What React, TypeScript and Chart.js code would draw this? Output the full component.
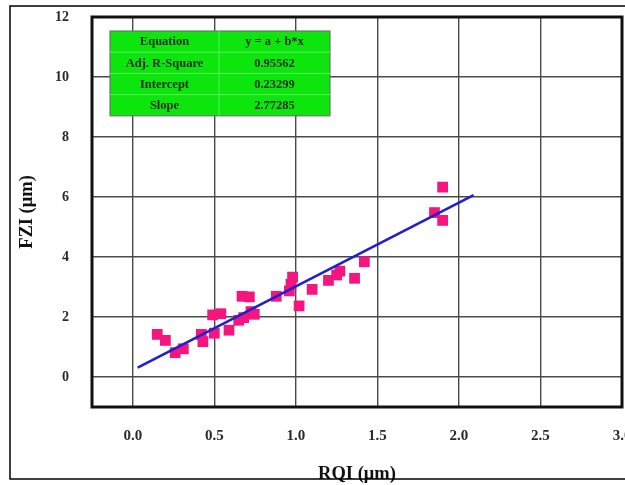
import React, { useEffect, useRef } from 'react';
import { Chart, registerables } from 'chart.js';

Chart.register(...registerables);

// ---- Data ----
const rqi = [0.15, 0.2, 0.26, 0.31, 0.42, 0.43, 0.5, 0.49, 0.54, 0.59, 0.65, 0.68, 0.67, 0.715, 0.725, 0.745, 0.88, 0.96, 0.97, 0.98, 1.02, 1.1, 1.2, 1.25, 1.27, 1.36, 1.42, 1.85, 1.9, 1.9];
const fzi = [1.42, 1.22, 0.81, 0.94, 1.42, 1.18, 1.46, 2.07, 2.11, 1.56, 1.89, 1.98, 2.69, 2.67, 2.18, 2.09, 2.69, 2.87, 3.09, 3.33, 2.37, 2.92, 3.22, 3.4, 3.53, 3.29, 3.84, 5.48, 6.33, 5.22];

const fitX = [0.03, 2.09];
const fitY = [0.31, 6.06];

const xTicks = [0, 0.5, 1.0, 1.5, 2.0, 2.5, 3.0];
const yTicks = [0, 2, 4, 6, 8, 10, 12];

const tableLabels = ['Equation', 'Adj. R-Square', 'Intercept', 'Slope'];
const tableValues = ['y = a + b*x', '0.95562', '0.23299', '2.77285'];

const xTitle = 'RQI (\u03bcm)';
const yTitle = 'FZI (\u03bcm)';

const SERIF = '"Liberation Serif", "Times New Roman", serif';

const decorPlugin = {
  id: 'decor',
  afterDraw(chart: any) {
    const { ctx, chartArea: a } = chart;
    ctx.save();
    // plot frame
    ctx.strokeStyle = '#111';
    ctx.lineWidth = 3;
    ctx.strokeRect(a.left, a.top, a.right - a.left, a.bottom - a.top);

    // stats table
    const tLeft = a.left + 18;
    const tTop = a.top + 14;
    const tW = 220;
    const rowH = 21.2;
    const tH = rowH * tableLabels.length;
    const colX = tLeft + 109;
    ctx.fillStyle = '#0ce60c';
    ctx.fillRect(tLeft, tTop, tW, tH);
    ctx.strokeStyle = 'rgba(110,110,110,0.75)';
    ctx.lineWidth = 1.5;
    ctx.strokeRect(tLeft, tTop, tW, tH);
    ctx.strokeStyle = '#5cee5c';
    ctx.lineWidth = 1;
    for (let i = 1; i < tableLabels.length; i++) {
      ctx.beginPath();
      ctx.moveTo(tLeft, tTop + rowH * i);
      ctx.lineTo(tLeft + tW, tTop + rowH * i);
      ctx.stroke();
    }
    ctx.beginPath();
    ctx.moveTo(colX, tTop);
    ctx.lineTo(colX, tTop + tH);
    ctx.stroke();
    ctx.fillStyle = '#132e13';
    ctx.font = 'bold 12.5px ' + SERIF;
    ctx.textAlign = 'center';
    ctx.textBaseline = 'middle';
    for (let i = 0; i < tableLabels.length; i++) {
      const cy = tTop + rowH * i + rowH / 2 + 0.5;
      ctx.fillText(tableLabels[i], (tLeft + colX) / 2, cy);
      ctx.fillText(tableValues[i], (colX + tLeft + tW) / 2, cy);
    }

    // outer frame
    ctx.strokeStyle = '#000';
    ctx.lineWidth = 1.5;
    ctx.strokeRect(10, 6, 700, 473);
    ctx.restore();
  },
};

export default function App() {
  const ref = useRef<HTMLCanvasElement>(null);

  useEffect(() => {
    if (!ref.current) return;
    const chart = new Chart(ref.current, {
      type: 'scatter',
      data: {
        datasets: [
          {
            label: 'Fit',
            data: fitX.map((x, i) => ({ x, y: fitY[i] })),
            showLine: true,
            borderColor: '#1f1fd0',
            borderWidth: 2.6,
            pointRadius: 0,
            fill: false,
          },
          {
            label: 'FZI',
            data: rqi.map((x, i) => ({ x, y: fzi[i] })),
            pointStyle: 'rect',
            pointRadius: 7.6,
            backgroundColor: '#f5157f',
            borderColor: '#f5157f',
            borderWidth: 0,
          },
        ],
      },
      options: {
        responsive: false,
        animation: false,
        events: [],
        layout: { padding: { left: 0, top: 17, right: 38, bottom: 0 } },
        plugins: {
          legend: { display: false },
          tooltip: { enabled: false },
        },
        scales: {
          x: {
            type: 'linear',
            min: -0.25,
            max: 3.0,
            afterBuildTicks: (s: any) => {
              s.ticks = xTicks.map((v) => ({ value: v }));
            },
            afterFit: (s: any) => {
              s.height = 78;
              s.paddingLeft = 0;
              s.paddingRight = 0;
            },
            grid: { color: '#4a4a4a', lineWidth: 1.4, drawTicks: false },
            border: { display: false },
            ticks: {
              padding: 20,
              color: '#2a2a2a',
              font: { family: SERIF, size: 15, weight: 'bold' },
              callback: (v: any) => Number(v).toFixed(1),
            },
            title: {
              display: true,
              text: xTitle,
              color: '#111',
              font: { family: SERIF, size: 18.5, weight: 'bold' },
              padding: { top: 0, bottom: 0 },
            },
          },
          y: {
            type: 'linear',
            min: -1,
            max: 12,
            afterBuildTicks: (s: any) => {
              s.ticks = yTicks.map((v) => ({ value: v }));
            },
            afterFit: (s: any) => {
              s.width = 92;
              s.paddingTop = 0;
              s.paddingBottom = 0;
            },
            grid: { color: '#4a4a4a', lineWidth: 1.4, drawTicks: false },
            border: { display: false },
            ticks: {
              padding: 23,
              color: '#2a2a2a',
              font: { family: SERIF, size: 14, weight: 'bold' },
              callback: (v: any) => String(v),
            },
            title: {
              display: true,
              text: yTitle,
              color: '#111',
              font: { family: SERIF, size: 18.5, weight: 'bold' },
              padding: { top: 16, bottom: 0 },
            },
          },
        },
      },
      plugins: [decorPlugin],
    } as any);
    return () => chart.destroy();
  }, []);

  return (
    <div
      style={{
        position: 'fixed',
        left: 0,
        top: 0,
        width: 625,
        height: 485,
        overflow: 'hidden',
        background: '#fff',
      }}
    >
      <canvas
        ref={ref}
        width={660}
        height={485}
        style={{ display: 'block', width: 660, height: 485 }}
      />
    </div>
  );
}
